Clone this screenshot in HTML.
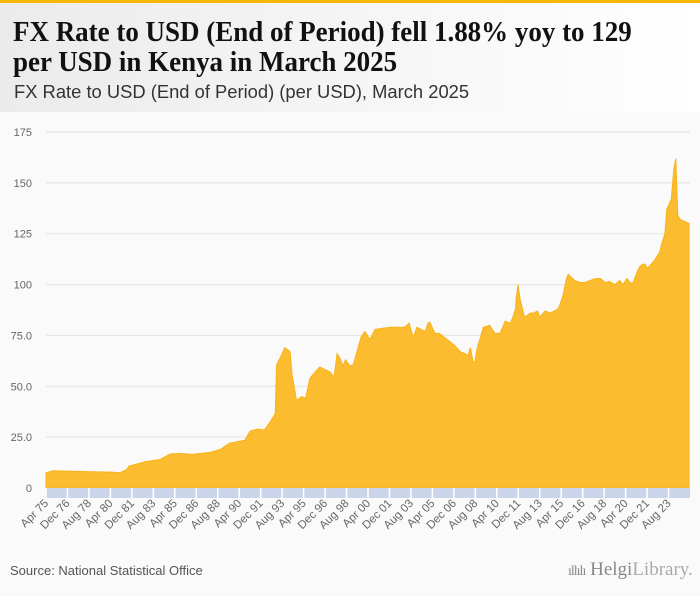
<!DOCTYPE html>
<html><head><meta charset="utf-8"><style>
body{margin:0;width:700px;height:596px;overflow:hidden;background:#fafafa;font-family:"Liberation Sans",sans-serif;position:relative}
#topbar{position:absolute;left:0;top:0;width:700px;height:3px;background:#f9b700}
#header{position:absolute;left:0;top:3px;width:700px;height:109px;background:linear-gradient(90deg,#ebebeb,#ffffff)}
.t{position:absolute;left:13px;font-family:"Liberation Serif",serif;font-weight:bold;font-size:29px;color:#111;white-space:nowrap;transform-origin:left top;transform:scaleX(0.93)}
#sub{position:absolute;left:14px;top:79px;font-size:18px;color:#333;white-space:nowrap;transform-origin:left top;transform:scaleX(1.02)}
#source{position:absolute;left:10px;top:563px;font-size:13px;color:#555}
#logo{position:absolute;left:568px;top:559px;font-size:19px;color:#888;font-family:"Liberation Serif",serif}
</style></head><body>
<div id="topbar"></div>
<div id="header">
<div class="t" style="top:13px">FX Rate to USD (End of Period) fell 1.88% yoy to 129</div>
<div class="t" style="top:43px">per USD in Kenya in March 2025</div>
<div id="sub">FX Rate to USD (End of Period) (per USD), March 2025</div>
</div>
<svg id="chart" width="700" height="596" style="position:absolute;left:0;top:0"></svg>
<div id="source">Source: National Statistical Office</div>
<div id="logo"><span style="font-size:14px;letter-spacing:-1px">ıllılı</span> Helgi<span style="color:#aaa">Library.</span></div>
<script>
const years=[1975.25,1975.8,1978.8,1980.3,1981.0,1981.5,1981.7,1983.0,1984.1,1984.9,1985.7,1986.6,1988.0,1988.8,1989.5,1990.7,1991.1,1991.7,1992.2,1992.6,1993.0,1993.05,1993.15,1993.5,1993.8,1994.2,1994.35,1994.7,1995.1,1995.4,1995.75,1996.0,1996.5,1997.3,1997.55,1997.6,1997.85,1998.1,1998.3,1998.5,1998.85,1999.1,1999.3,1999.7,2000.0,2000.4,2000.8,2001.95,2002.7,2003.1,2003.45,2003.75,2004.05,2004.7,2004.9,2005.05,2005.45,2005.8,2006.2,2006.6,2007.0,2007.4,2007.8,2008.0,2008.2,2008.4,2008.55,2008.7,2009.2,2009.7,2010.1,2010.5,2010.9,2011.3,2011.5,2011.7,2011.75,2011.9,2012.05,2012.4,2012.85,2013.1,2013.4,2013.6,2014.0,2014.4,2015.0,2015.2,2015.4,2015.65,2015.8,2016.3,2016.7,2017.1,2017.9,2018.3,2018.65,2019.0,2019.4,2019.8,2020.05,2020.35,2020.6,2020.8,2021.2,2021.35,2021.6,2021.75,2021.95,2022.5,2022.9,2023.05,2023.3,2023.45,2023.8,2024.0,2024.15,2024.3,2024.5,2025.17];
const values=[7.5,8.5,8.0,7.8,7.5,9,10.8,13,14,16.7,17,16.5,17.5,19,22,23.5,28,29,28.5,32,36,37,60.5,65,69,67,56,43,45,44,54,56,59.5,57,55,54,66,63.5,60,63,60,60.5,65,74,77,73,78,79,79,79,81,74,79,77,81,81.5,76,76,74,72,70,67,66,65,69,62,62,68,79,80,76,76,82,81,84,88,93,100,93,84,86,86,87,84,87,86,88,91,95,103,105,102,101,101,103,103,101,101.5,100,102,100,103,101,100.5,107,109,110,110,108,112,116,120,125,137,142,157,162,134,132,130,129];
const yTicks=[0,25,50,75,100,125,150,175];
const yTickLabels=["0","25.0","50.0","75.0","100","125","150","175"];
const xTickLabels=["Apr 75","Dec 76","Aug 78","Apr 80","Dec 81","Aug 83","Apr 85","Dec 86","Aug 88","Apr 90","Dec 91","Aug 93","Apr 95","Dec 96","Aug 98","Apr 00","Dec 01","Aug 03","Apr 05","Dec 06","Aug 08","Apr 10","Dec 11","Aug 13","Apr 15","Dec 16","Aug 18","Apr 20","Dec 21","Aug 23"];
const NS="http://www.w3.org/2000/svg",svg=document.getElementById('chart');
const X0=46,X1=690,Y0=488,YTOP=132,START=1975.25,END=2025.25;
const xs=y=>X0+(y-START)/(END-START)*(X1-X0);
const ys=v=>Y0-v/175*(Y0-YTOP);
function mk(t,a){const e=document.createElementNS(NS,t);for(const k in a)e.setAttribute(k,a[k]);svg.appendChild(e);return e;}
yTicks.forEach((v,i)=>{
 const g=mk('line',{x1:X0,x2:X1,y1:ys(v),y2:ys(v),stroke:'#e3e3e3','stroke-width':1});
 
 
 const t=mk('text',{x:32,y:ys(v)+4,'text-anchor':'end','font-size':11,fill:'#666','font-family':'Liberation Sans, sans-serif'});
 t.textContent=yTickLabels[i];
 
 
});
let d='M'+xs(years[0])+','+Y0;
years.forEach((y,i)=>{d+=' L'+xs(y).toFixed(1)+','+ys(values[i]).toFixed(1);});
d+=' L'+xs(years[years.length-1]).toFixed(1)+','+Y0+' Z';
const area=mk('path',{d:d,fill:'#fbbc2f',stroke:'#f8b31a','stroke-width':1});


const band=mk('rect',{x:X0,y:Y0,width:X1-X0,height:10,fill:'#cbd5ea'});


xTickLabels.forEach((lab,i)=>{
 const yr=START+i*20/12, x=xs(yr);
 const tk=mk('line',{x1:x,x2:x,y1:Y0,y2:Y0+10,stroke:'#fff','stroke-width':1.5});
 
 
 const t=mk('text',{x:x+3,y:Y0+16,'text-anchor':'end','font-size':11.5,fill:'#666','font-family':'Liberation Sans, sans-serif',transform:'rotate(-45 '+(x+3)+' '+(Y0+16)+')'});
 t.textContent=lab;
 
 
});
</script>
</body></html>
